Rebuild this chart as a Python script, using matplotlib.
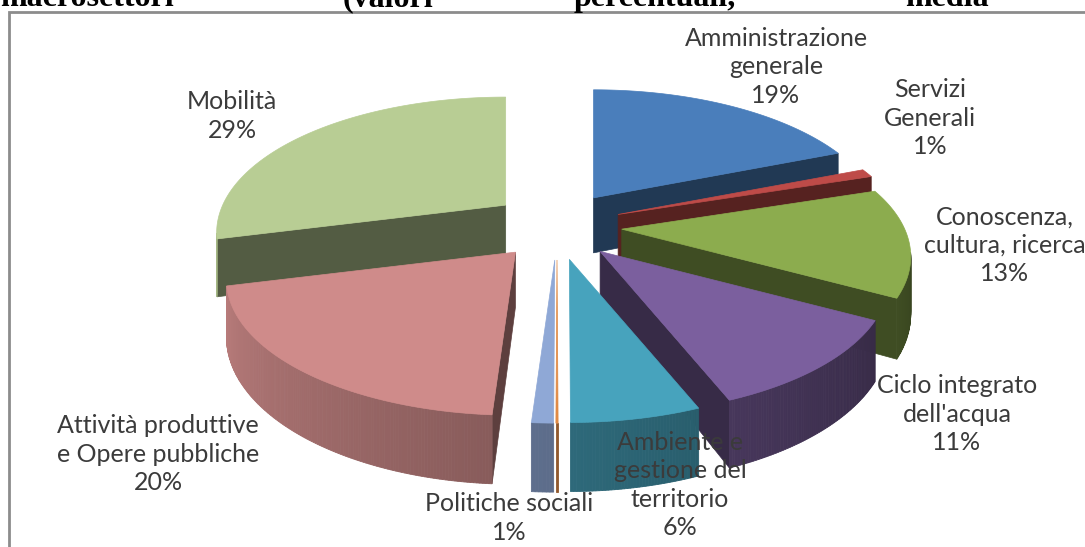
import numpy as np
import matplotlib
matplotlib.use("Agg")
import matplotlib.pyplot as plt
from matplotlib.patches import Polygon
from matplotlib.colors import to_rgb

# sectors, clockwise from 12 o'clock
labels = ["Amministrazione\ngenerale", "Servizi\nGenerali", "Conoscenza,\ncultura, ricerca",
          "Ciclo integrato\ndell'acqua", "Ambiente e\ngestione del\nterritorio", "",
          "Politiche sociali", "Attività produttive\ne Opere pubbliche", "Mobilità"]
values = [19, 1, 13, 11, 6, 0.1, 1, 20, 29]
colors = ["#4A7EBB", "#BE4B48", "#8CAC4E", "#7B5F9E", "#47A3BD", "#E08A45",
          "#8FA8D6", "#CF8B8A", "#B8CD94"]
# centre of each label block (px)
label_pos = [(776, 67), (930, 118), (1005, 245), (957, 414), (680, 485), None,
             (509, 518), (158, 454), (232, 116)]

# projection / layout
CX, CY = 557, 226      # pie centre (px)
EX, EY = 65, 34        # explosion offset
R, r = 283, 130        # horizontal / vertical radius
P = 0.203              # perspective
H = 55                 # thickness
WALL_FROM, WALL_TO = 100, 258   # arc range where the rim wall faces the viewer

fig = plt.figure(figsize=(10.85, 5.47), dpi=100)
ax = fig.add_axes([0, 0, 1, 1])
ax.set_xlim(0, 1085)
ax.set_ylim(547, 0)
ax.axis('off')


def shade(c, k):
    return tuple(np.clip(np.array(to_rgb(c)) * k, 0, 1))


def rim(apex, th):
    t = np.radians(th)
    s = 1.0 / (1 + P * np.cos(t))
    x = apex[0] + R * np.sin(t) * s
    y = apex[1] - r * np.cos(t) * s
    return x, y, H * s


tot = float(sum(values))
bounds = np.concatenate([[0], np.cumsum(values)]) / tot * 360
slices = []
for i in range(len(values)):
    t1, t2 = bounds[i], bounds[i + 1]
    mid = np.radians((t1 + t2) / 2)
    apex = (CX + EX * np.sin(mid), CY - EY * np.cos(mid))
    slices.append((i, t1, t2, apex, np.cos(mid)))

# paint back slices first
order = sorted(slices, key=lambda s: -s[4])
z = 1
for i, t1, t2, apex, cm in order:
    col = colors[i]
    # radial faces
    for th, normal in ((t1, t1 - 90), (t2, t2 + 90)):
        if np.cos(np.radians(normal)) < -0.01:
            x, y, h = rim(apex, th)
            poly = [(apex[0], apex[1]), (x, y), (x, y + h), (apex[0], apex[1] + H)]
            ax.add_patch(Polygon(poly, closed=True, fc=shade(col, 0.45),
                                 ec=shade(col, 0.45), lw=0.5, zorder=z))
    # outer curved wall, shaded by angle
    a, b = max(t1, WALL_FROM), min(t2, WALL_TO)
    if b > a:
        ths = np.linspace(a, b, max(int((b - a) * 2), 2))
        for ta, tb in zip(ths[:-1], ths[1:]):
            xa, ya, ha = rim(apex, ta)
            xb, yb, hb = rim(apex, tb)
            k = np.clip(0.39 + ((ta + tb) / 2 - 100) * 0.0032, 0.36, 0.9)
            c = shade(col, k)
            ax.add_patch(Polygon([(xa, ya), (xb, yb), (xb, yb + hb), (xa, ya + ha)],
                                 closed=True, fc=c, ec=c, lw=0.6, zorder=z))
    # top face
    ths = np.linspace(t1, t2, max(int((t2 - t1) * 2), 2))
    pts = [apex] + [rim(apex, t)[:2] for t in ths]
    ax.add_patch(Polygon(pts, closed=True, fc=col, ec=col, lw=0.5, zorder=z + 0.5))
    z += 1

# data labels
for i, lab in enumerate(labels):
    if not lab or label_pos[i] is None:
        continue
    txt = lab + "\n" + "%d%%" % round(values[i])
    x, y = label_pos[i]
    ax.text(x, y, txt, ha='center', va='center', fontsize=18, family='Lato',
            color='#3b3b3b', linespacing=1.28, zorder=50)

# chart frame and cut-off caption above it
ax.plot([9, 9, 1085], [547, 12, 12], color='#8c8c8c', lw=2, zorder=60,
        solid_joinstyle='miter')
for word, x0 in (("macrosettori", 0), ("(valori", 343), ("percentuali,", 574), ("media", 905)):
    ax.text(x0, 6, word, ha='left', va='baseline', fontsize=23, family='Liberation Serif',
            fontweight='bold', color='black', zorder=60)

fig.savefig("out.png", dpi=100)
